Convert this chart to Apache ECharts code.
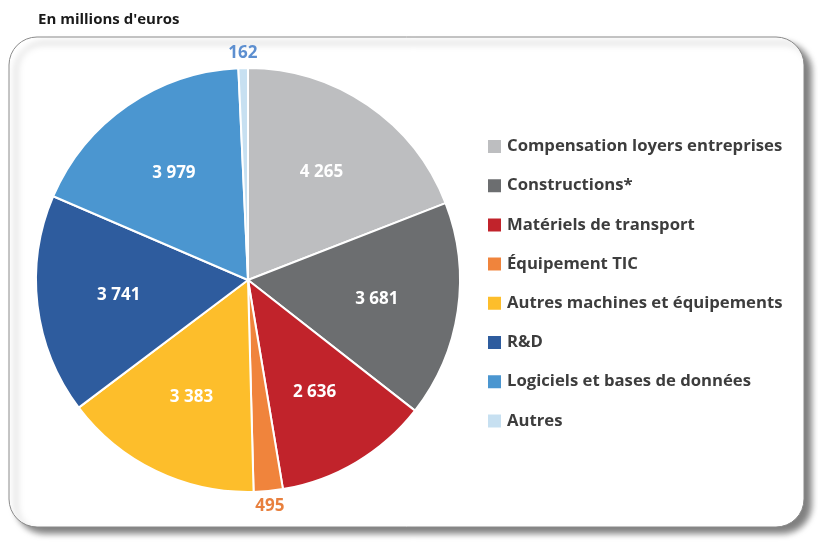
<!DOCTYPE html>
<html>
<head>
<meta charset="utf-8">
<script src="https://cdn.jsdelivr.net/npm/echarts@6/dist/echarts.min.js"></script>
<style>
  html, body { margin: 0; padding: 0; background: #fff; }
  #chart { width: 818px; height: 542px; }
</style>
</head>
<body>
<div id="chart"></div>
<script>
const categories = [
  'Compensation loyers entreprises',
  'Constructions*',
  'Matériels de transport',
  'Équipement TIC',
  'Autres machines et équipements',
  'R&D',
  'Logiciels et bases de données',
  'Autres'
]
const values = [4265, 3681, 2636, 495, 3383, 3741, 3979, 162]
const colors = ['#bdbec0', '#6c6e70', '#c1232b', '#f0843c', '#fdbe2b', '#2e5c9e', '#4b96d0', '#c7e0f1']
// labels drawn outside the slice (too small for an inside label)
const outsideLabels = ['Équipement TIC', 'Autres']
const outsideLabelColors = {'Équipement TIC': '#e8803e', 'Autres': '#5d8fd0'}

const fmt = v => String(v).replace(/\B(?=(\d{3})+(?!\d))/g, ' ')
const font = '"Open Sans", sans-serif'

const cx = 248, cy = 280, R = 212

let chart = echarts.init(document.getElementById('chart'), null, {renderer: 'canvas'})

const mainData = categories.map((name, i) => {
  const outside = outsideLabels.includes(name)
  return {
    name: name,
    value: values[i],
    itemStyle: {color: colors[i]},
    label: outside ? {
      show: true,
      position: 'outside',
      distanceToLabelLine: 0,
      formatter: p => fmt(p.value),
      color: outsideLabelColors[name],
      fontSize: 17,
      fontWeight: 'bold',
      fontFamily: font
    } : {show: false},
    labelLine: {show: false, length: 15, length2: 0}
  }
})

// transparent twin of the pie, larger, so that inside labels sit at ~60% of the radius
const labelData = categories.map((name, i) => ({
  name: name,
  value: values[i],
  label: {show: !outsideLabels.includes(name)}
}))

chart.setOption({
  animation: false,
  title: {
    text: "En millions d'euros",
    left: 33,
    top: 7,
    textStyle: {fontFamily: font, fontSize: 15, fontWeight: 'bold', color: '#1a1a1a'}
  },
  graphic: [
    {
      type: 'rect',
      z: -10,
      shape: {x: 9, y: 37, width: 795, height: 490, r: 28},
      style: {
        fill: '#fff',
        stroke: '#8a8a8a',
        lineWidth: 1,
        shadowBlur: 6,
        shadowOffsetX: 7,
        shadowOffsetY: 6,
        shadowColor: 'rgba(0,0,0,0.5)'
      }
    }
  ],
  legend: {
    orient: 'vertical',
    left: 481,
    top: 133,
    itemWidth: 15,
    itemHeight: 15,
    itemGap: 22.2,
    icon: 'rect',
    data: categories,
    textStyle: {fontFamily: font, fontSize: 16.7, fontWeight: 'bold', color: '#3d3d3d'}
  },
  series: [
    {
      type: 'pie',
      center: [cx, cy],
      radius: [0, R],
      startAngle: 90,
      clockwise: true,
      avoidLabelOverlap: false,
      itemStyle: {borderColor: '#fff', borderWidth: 2},
      emphasis: {disabled: true},
      labelLayout: {align: 'center'},
      data: mainData
    },
    {
      type: 'pie',
      center: [cx, cy],
      radius: [0, R * 1.2],
      startAngle: 90,
      clockwise: true,
      silent: true,
      avoidLabelOverlap: false,
      itemStyle: {color: 'rgba(0,0,0,0)'},
      label: {
        position: 'inside',
        formatter: p => fmt(p.value),
        color: '#fff',
        fontSize: 17,
        fontWeight: 'bold',
        fontFamily: font
      },
      labelLine: {show: false},
      data: labelData
    }
  ]
})
</script>
</body>
</html>
